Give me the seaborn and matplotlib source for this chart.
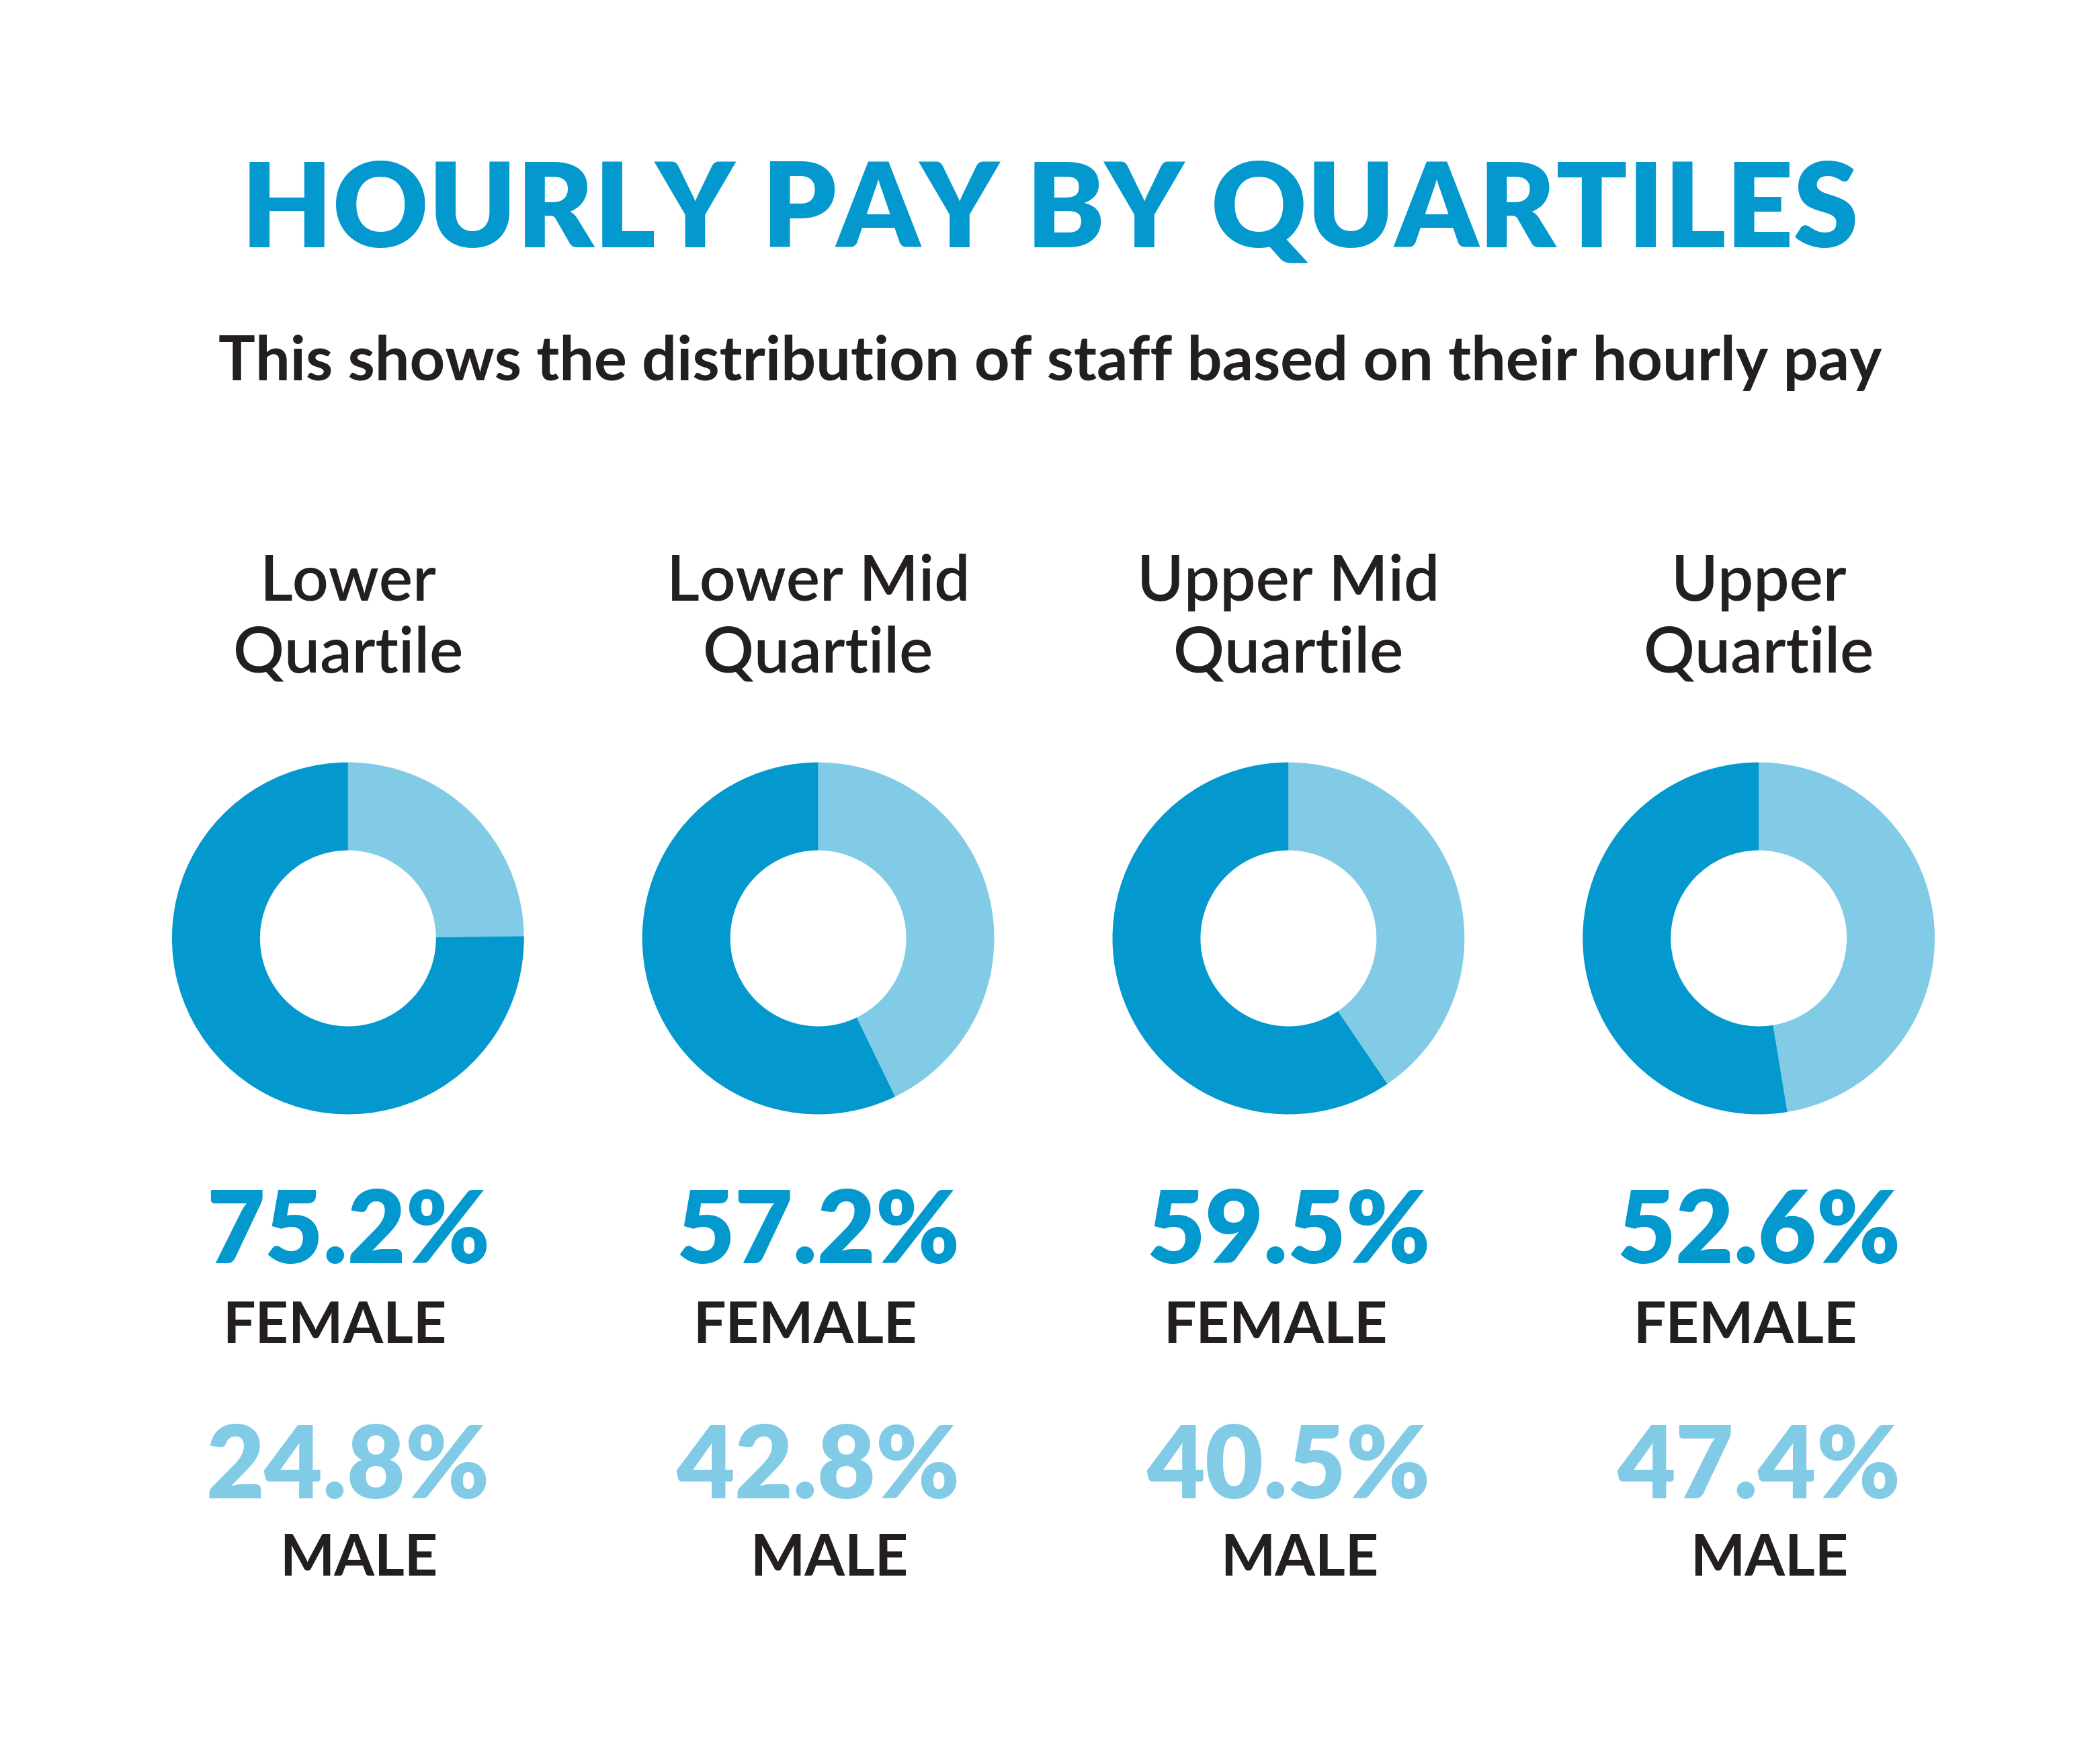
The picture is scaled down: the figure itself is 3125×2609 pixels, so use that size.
import matplotlib
matplotlib.use("Agg")
import matplotlib.pyplot as plt
import seaborn as sns

sns.set_theme(style="white", font="Lato")

quartiles = ["Lower\nQuartile", "Lower Mid\nQuartile", "Upper Mid\nQuartile", "Upper\nQuartile"]
female_pct = [75.2, 57.2, 59.5, 52.6]
male_pct = [24.8, 42.8, 40.5, 47.4]

DARK = "#0398CE"
LIGHT = "#82CBE6"
TEXT = "#231F20"

W, H = 1563, 1304  # layout units (half of output pixels)
fig = plt.figure(figsize=(31.25, 26.09), dpi=100)
fig.patch.set_facecolor("white")

def fx(x):
    return x / W

def fy(y):
    return 1 - y / H

fig.text(0.5, fy(158), "HOURLY PAY BY QUARTILES", ha="center", va="center",
         fontsize=126, fontweight="heavy", color=DARK)
fig.text(0.5, fy(270), "This shows the distribution of staff based on their hourly pay",
         ha="center", va="center", fontsize=66, fontweight="bold", color=TEXT)

centers = [259, 609, 959, 1309]
r = 131
for cx, q, f, m in zip(centers, quartiles, female_pct, male_pct):
    ax = fig.add_axes([fx(cx - r), fy(698 + r), 2 * r / W, 2 * r / H])
    ax.pie([m, f], colors=[LIGHT, DARK], startangle=90, counterclock=False,
           wedgeprops=dict(width=0.5, linewidth=0))
    ax.set_xlim(-1, 1)
    ax.set_ylim(-1, 1)
    ax.set_aspect("equal")
    ax.axis("off")
    fig.text(fx(cx), fy(460), q, ha="center", va="center", fontsize=68,
             fontweight="semibold", color=TEXT, linespacing=1.3)
    fig.text(fx(cx), fy(918), f"{f}%", ha="center", va="center", fontsize=108,
             fontweight="heavy", color=DARK)
    fig.text(fx(cx - 10), fy(987), "FEMALE", ha="center", va="center", fontsize=62,
             fontweight="bold", color=TEXT)
    fig.text(fx(cx), fy(1093), f"{m}%", ha="center", va="center", fontsize=108,
             fontweight="heavy", color=LIGHT)
    fig.text(fx(cx + 8), fy(1160), "MALE", ha="center", va="center", fontsize=62,
             fontweight="bold", color=TEXT)

fig.savefig("out.png", dpi=100, facecolor="white")
